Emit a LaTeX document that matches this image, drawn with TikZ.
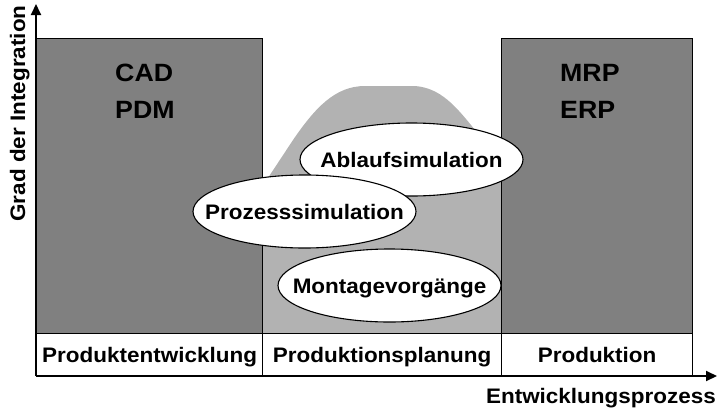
\documentclass[tikz,border=0pt]{standalone}
\usepackage{fontspec}
\setmainfont{Liberation Sans}[FakeStretch=1.07]
\usetikzlibrary{shapes.geometric,arrows.meta}

\definecolor{darkfill}{RGB}{128,128,128}
\definecolor{lightfill}{RGB}{178,178,178}

\newcommand{\blobtext}[1]{\makebox[0pt][c]{#1}}

\begin{document}
\begin{tikzpicture}[x=1pt,y=-1pt,
  every node/.style={font=\bfseries},
  areabox/.style={draw=black,line width=1.2pt,fill=darkfill},
  phasecell/.style={draw=black,line width=1.2pt,fill=white,rectangle,inner sep=0pt,
    font=\bfseries\fontsize{21}{25}\selectfont,text height=20pt,text depth=5pt},
  simblob/.style={ellipse,draw=black,line width=1.1pt,fill=white,inner sep=0pt,
    minimum width=223pt,minimum height=73pt,
    font=\bfseries\fontsize{21}{25}\selectfont,text height=20pt,text depth=5pt},
  systext/.style={align=left,inner sep=0pt,font=\bfseries\fontsize{25}{37}\selectfont},
  axislabel/.style={inner sep=0pt,font=\bfseries\fontsize{21}{25}\selectfont},
  axisline/.style={line width=2pt,-{Triangle[length=11pt,width=10pt]}}]

\useasboundingbox (0,0) rectangle (717,410);

% light grey hill behind the simulation ellipses
\fill[lightfill] (262,187) -- (293,140)
  .. controls (315,108) and (335,86) .. (365,86) -- (415,86)
  .. controls (440,88) and (455,105) .. (475,130)
  -- (501,168) -- (501,333) -- (262,333) -- cycle;

% dark grey system areas
\node[areabox,rectangle,inner sep=0pt,minimum width=226pt,minimum height=295pt,anchor=north west]
  (cadbox) at (36,38) {};
\node[areabox,rectangle,inner sep=0pt,minimum width=191pt,minimum height=295pt,anchor=north west]
  (erpbox) at (501,38) {};

\node[systext,anchor=west] (cad) at (115,91.5) {CAD\\PDM};
\node[systext,anchor=west] (erp) at (560,91.5) {MRP\\ERP};

% phase row
\node[phasecell,minimum width=226pt,minimum height=43pt,anchor=north west]
  (pe) at (36,333) {Produktentwicklung};
\node[phasecell,minimum width=239pt,minimum height=43pt,anchor=north west]
  (pp) at (262,333) {Produktionsplanung};
\node[phasecell,minimum width=191pt,minimum height=43pt,anchor=north west]
  (pr) at (501,333) {Produktion};

% simulation ellipses
\node[simblob] (ablauf) at (411.5,159.5) {\blobtext{Ablaufsimulation}};
\node[simblob] (montage) at (389.5,285.5) {\blobtext{Montagevorgänge}};
\node[simblob] (prozess) at (304.5,211.5) {\blobtext{Prozesssimulation}};

% axes
\coordinate (origin) at (36,376);
\coordinate (ytip) at (36,4);
\coordinate (xtip) at (717,376);
\draw[axisline] (origin) -- (ytip);
\draw[axisline] (origin) -- (xtip);

\node[axislabel,rotate=90,anchor=base] (ylabel) at (25,113.5) {Grad der Integration};
\node[axislabel,anchor=base east] (xlabel) at (716,403) {Entwicklungsprozess};

\end{tikzpicture}
\end{document}
